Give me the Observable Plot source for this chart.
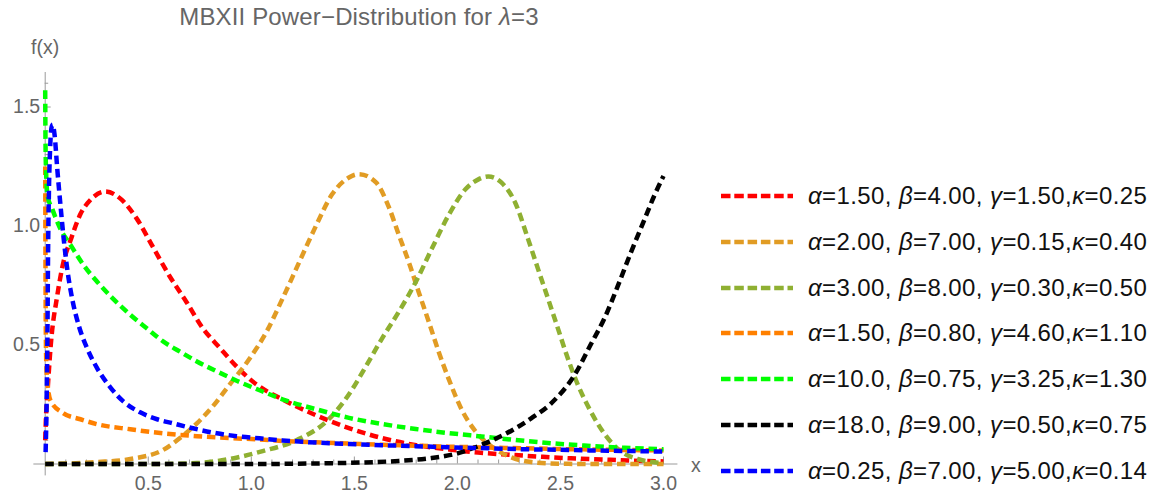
<!DOCTYPE html>
<html><head><meta charset="utf-8">
<script src="https://cdn.jsdelivr.net/npm/d3@7"></script>
<script src="https://cdn.jsdelivr.net/npm/@observablehq/plot@0.6"></script>
<style>
body{margin:0;background:#fff;font-family:"Liberation Sans",Arial,sans-serif;}
#wrap{position:relative;width:1152px;height:497px;overflow:hidden;background:#fff}
#chart{position:absolute;left:0;top:0}
#title{position:absolute;left:0;width:718px;top:3px;line-height:28px;text-align:center;font-size:24px;letter-spacing:0.15px;color:#666;white-space:nowrap}
.leg{position:absolute;left:720px;height:30px;display:flex;align-items:center;font-size:24px;letter-spacing:0.4px;color:#111;white-space:nowrap}
.leg svg{margin-right:14px;display:block}
</style></head>
<body>
<div id="wrap">
  <div id="chart"></div>
  <div id="title">MBXII Power−Distribution for <i>λ</i>=3</div>
  <div id="legend"></div>
</div>
<script>
// ---- tick values and labels ----
const xMajor = [0.5, 1.0, 1.5, 2.0, 2.5, 3.0];
const xMajorLabels = ["0.5", "1.0", "1.5", "2.0", "2.5", "3.0"];
const xMinor = [0.1,0.2,0.3,0.4,0.6,0.7,0.8,0.9,1.1,1.2,1.3,1.4,1.6,1.7,1.8,1.9,2.1,2.2,2.3,2.4,2.6,2.7,2.8,2.9];
const yMajor = [0.5, 1.0, 1.5];
const yMajorLabels = ["0.5", "1.0", "1.5"];
const yMinor = [0.1,0.2,0.3,0.4,0.6,0.7,0.8,0.9,1.1,1.2,1.3,1.4,1.6];

// ---- legend labels (HTML, Greek letters italic) ----
const legendLabels = [
  "<i>α</i>=1.50, <i>β</i>=4.00, <i>γ</i>=1.50,<i>κ</i>=0.25",
  "<i>α</i>=2.00, <i>β</i>=7.00, <i>γ</i>=0.15,<i>κ</i>=0.40",
  "<i>α</i>=3.00, <i>β</i>=8.00, <i>γ</i>=0.30,<i>κ</i>=0.50",
  "<i>α</i>=1.50, <i>β</i>=0.80, <i>γ</i>=4.60,<i>κ</i>=1.10",
  "<i>α</i>=10.0, <i>β</i>=0.75, <i>γ</i>=3.25,<i>κ</i>=1.30",
  "<i>α</i>=18.0, <i>β</i>=9.00, <i>γ</i>=0.50,<i>κ</i>=0.75",
  "<i>α</i>=0.25, <i>β</i>=7.00, <i>γ</i>=5.00,<i>κ</i>=0.14"
];
const seriesColors = ["#FF0000", "#E19C24", "#8FB032", "#FF8000", "#00FF00", "#000000", "#0000FF"];

// ---- series values: [x, f(x)] ----
const red = [
  [0.000,0.10],[0.004,0.20],[0.011,0.30],[0.027,0.50],[0.059,0.71],[0.089,0.85],[0.123,0.94],
  [0.171,1.05],[0.220,1.11],[0.292,1.145],[0.365,1.115],[0.445,1.03],[0.524,0.91],[0.603,0.79],
  [0.686,0.68],[0.765,0.57],[0.845,0.49],[0.928,0.41],[1.024,0.335],[1.15,0.272],[1.30,0.21],
  [1.47,0.152],[1.63,0.11],[1.80,0.079],[1.96,0.061],[2.10,0.048],[2.25,0.039],[2.40,0.031],
  [2.55,0.024],[2.70,0.019],[2.85,0.014],[3.0,0.011]
];
const gold = [
  [0,0],[0.253,0.008],[0.413,0.021],[0.572,0.059],[0.654,0.109],[0.736,0.171],[0.813,0.242],
  [0.895,0.334],[0.992,0.443],[1.074,0.556],[1.151,0.694],[1.233,0.849],[1.315,1.003],[1.392,1.133],
  [1.474,1.204],[1.522,1.218],[1.605,1.183],[1.668,1.078],[1.716,0.962],[1.764,0.849],[1.812,0.723],
  [1.861,0.598],[1.909,0.472],[1.957,0.359],[2.02,0.230],[2.087,0.138],[2.15,0.084],[2.247,0.033],
  [2.358,0.008],[2.488,0.001],[2.681,0],[3.0,0]
];
const olive = [
  [0,0],[0.509,0],[0.736,0.004],[0.895,0.021],[1.055,0.054],[1.219,0.100],[1.378,0.19],[1.474,0.293],
  [1.556,0.410],[1.634,0.527],[1.716,0.640],[1.798,0.765],[1.875,0.903],[1.957,1.045],[2.039,1.154],
  [2.102,1.196],[2.15,1.208],[2.213,1.183],[2.28,1.099],[2.343,0.945],[2.391,0.820],[2.44,0.694],
  [2.488,0.569],[2.536,0.443],[2.584,0.334],[2.647,0.221],[2.715,0.125],[2.792,0.054],[2.874,0.021],
  [3.0,0.004]
];
const orange = [
  [0.0003,1.25],[0.002,0.70],[0.005,0.43],[0.012,0.33],[0.027,0.264],[0.089,0.213],[0.171,0.188],
  [0.253,0.167],[0.413,0.146],[0.572,0.129],[0.736,0.117],[0.895,0.109],[1.04,0.103],[1.151,0.097],
  [1.315,0.091],[1.474,0.086],[1.634,0.081],[1.798,0.077],[1.957,0.073],[2.15,0.069],[2.33,0.066],
  [2.488,0.063],[2.647,0.061],[2.811,0.059],[3.0,0.057]
];
const green = [
  [0,1.57],[0.001,1.405],[0.003,1.267],[0.011,1.129],[0.035,1.07],[0.075,0.986],[0.123,0.920],
  [0.186,0.836],[0.253,0.765],[0.33,0.694],[0.413,0.627],[0.494,0.569],[0.572,0.515],[0.654,0.472],
  [0.736,0.431],[0.833,0.389],[0.929,0.350],[1.04,0.310],[1.151,0.272],[1.315,0.230],[1.474,0.194],
  [1.634,0.168],[1.798,0.147],[1.957,0.130],[2.102,0.117],[2.33,0.097],[2.488,0.085],[2.647,0.076],
  [2.811,0.068],[3.0,0.062]
];
const black = [
  [0,0],[1.0,0],[1.3,0.002],[1.474,0.005],[1.716,0.013],[1.875,0.025],[2.005,0.046],[2.116,0.080],
  [2.23,0.125],[2.358,0.192],[2.455,0.255],[2.57,0.376],[2.647,0.502],[2.715,0.615],[2.777,0.745],
  [2.84,0.885],[2.908,1.028],[2.956,1.129],[3.0,1.21]
];
const blue = [
  [0.002,0.05],[0.007,0.26],[0.011,0.56],[0.014,0.89],[0.018,1.14],[0.024,1.33],[0.030,1.41],
  [0.036,1.426],[0.046,1.379],[0.058,1.246],[0.075,1.079],[0.091,0.936],[0.107,0.819],[0.131,0.694],
  [0.163,0.581],[0.204,0.485],[0.253,0.401],[0.316,0.322],[0.379,0.263],[0.461,0.217],[0.543,0.188],
  [0.62,0.171],[0.717,0.150],[0.833,0.129],[0.929,0.117],[1.04,0.108],[1.151,0.099],[1.315,0.090],
  [1.474,0.084],[1.634,0.079],[1.798,0.075],[1.957,0.070],[2.15,0.066],[2.33,0.062],[2.488,0.060],
  [2.647,0.057],[2.811,0.055],[3.0,0.052]
];
const seriesData = [red, gold, olive, orange, green, black, blue];

// ---- styles ----
const axisColor = "#9a9a9a";
const textColor = "#666666";
const dash = "8.5,4.8";
const legendDash = "9.5,3.8";
const majorTickX = 7 / 238, minorTickX = 4 / 238;   // tick lengths (data units)
const majorTickY = 6 / 206, minorTickY = 3.5 / 206;

const chart = Plot.plot({
  width: 1152, height: 497,
  marginLeft: 44.7, marginRight: 489, marginTop: 73.2, marginBottom: 33.5,
  style: {fontFamily: "'Liberation Sans', Arial, sans-serif", background: "transparent", overflow: "visible"},
  x: {domain: [0, 3], axis: null},
  y: {domain: [0, 1.64], axis: null},
  marks: [
    Plot.ruleY([0], {x1: -0.055, x2: 3.07, stroke: axisColor, strokeWidth: 1}),
    Plot.ruleX([0], {y1: -0.05, y2: 1.645, stroke: axisColor, strokeWidth: 1}),
    Plot.ruleX(xMajor, {x: d => d, y1: 0, y2: majorTickX, stroke: axisColor}),
    Plot.ruleX(xMinor, {x: d => d, y1: 0, y2: minorTickX, stroke: axisColor}),
    Plot.ruleY(yMajor, {y: d => d, x1: 0, x2: majorTickY, stroke: axisColor}),
    Plot.ruleY(yMinor, {y: d => d, x1: 0, x2: minorTickY, stroke: axisColor}),
    ...seriesData.map((s, i) => Plot.line(s, {
      x: d => d[0], y: d => d[1], stroke: seriesColors[i], strokeWidth: 4.5,
      strokeDasharray: dash, strokeLinecap: "butt", strokeLinejoin: "round", curve: "monotone-x"
    })),
    Plot.text(xMajorLabels, {x: (d, i) => xMajor[i], y: 0, dy: 19.5, fontSize: 19.5, fill: textColor}),
    Plot.text(yMajorLabels, {x: 0, y: (d, i) => yMajor[i], dx: -5, textAnchor: "end", fontSize: 19.5, fill: textColor}),
    Plot.text(["x"], {x: 3.07, y: 0, dx: 18, dy: 2, fontSize: 19.5, fill: textColor}),
    Plot.text(["f(x)"], {x: 0, y: 1.645, dy: -25, fontSize: 19.5, fill: textColor})
  ]
});
document.getElementById("chart").appendChild(chart);

// ---- legend ----
const legendRowsY = [195.7, 241.6, 287.5, 333.4, 379.3, 425.2, 471.1];
const legend = document.getElementById("legend");
legendLabels.forEach((lab, i) => {
  const row = document.createElement("div");
  row.className = "leg";
  row.style.top = (legendRowsY[i] - 15) + "px";
  row.innerHTML = `<svg width="74" height="10"><line x1="1" x2="73" y1="5" y2="5" stroke="${seriesColors[i]}" stroke-width="4.5" stroke-dasharray="${legendDash}"/></svg><span>${lab}</span>`;
  legend.appendChild(row);
});
</script>
</body></html>
